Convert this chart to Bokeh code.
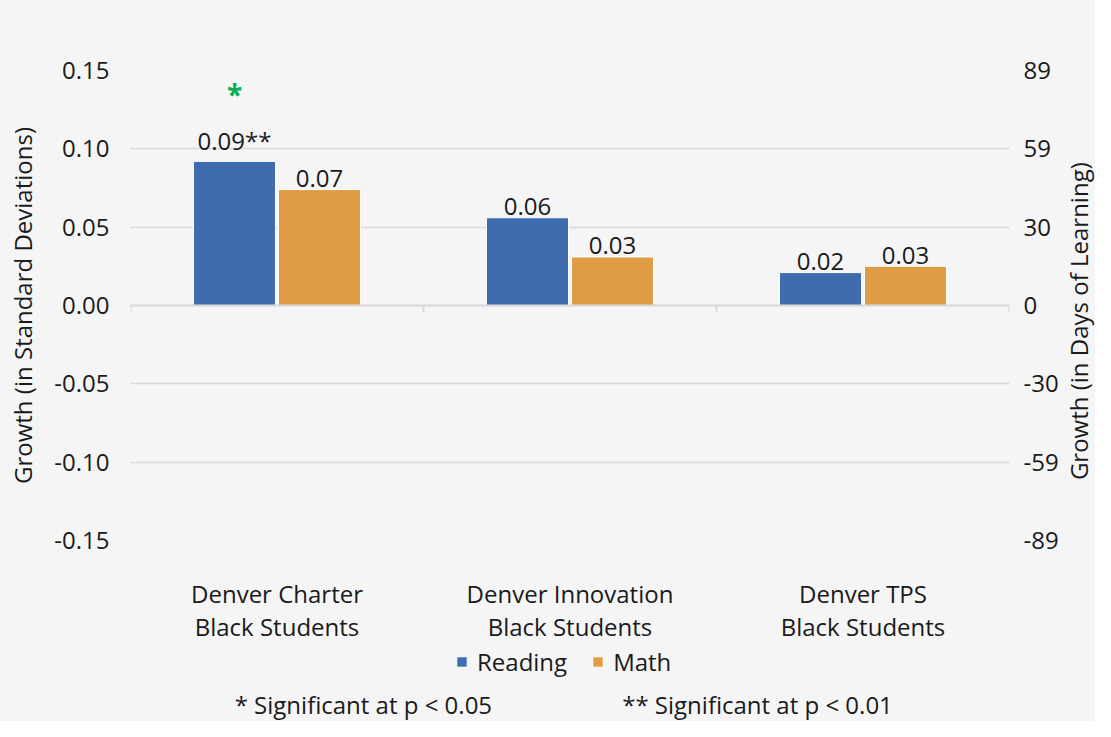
import math as _m
from bokeh.plotting import figure
from bokeh.layouts import column, row
from bokeh.models import (ColumnDataSource, FactorRange, LinearAxis, FixedTicker,
                          CustomJSTickFormatter, Legend, LegendItem, Label, Range1d)
from bokeh.transform import dodge
from bokeh.core.properties import value
from bokeh.embed import file_html
from bokeh.resources import INLINE

categories = ["Denver Charter\nBlack Students", "Denver Innovation\nBlack Students", "Denver TPS\nBlack Students"]
reading = [0.092, 0.056, 0.021]
math = [0.074, 0.031, 0.025]
reading_labels = ["0.09**", "0.06", "0.02"]
math_labels = ["0.07", "0.03", "0.03"]
sig_marks = ["*", "", ""]
series = ["Reading", "Math"]
y_ticks = [-0.15, -0.10, -0.05, 0.0, 0.05, 0.10, 0.15]
days_per_sd = 593.33
footnotes = ["* Significant  at p < 0.05", "** Significant at p < 0.01"]
left_title = "Growth (in Standard Deviations)"
right_title = "Growth (in Days of Learning)"

# ---- styles ----
FONT = "Open Sans"
FS = "24px"
BG = "#f5f5f5"
BLUE = "#3e6cae"
ORANGE = "#e09c44"
GRID = "#d9d9d9"
TXT = "#1a1a1a"
W = 1095
W_RT = 34          # strip holding the right-hand axis title
H_MAIN = 645
H_FOOT = 76
FRAME_L, FRAME_R = 130, 1009
reading_label_offsets = [-21, -11, -11]
math_label_offsets = [-11, -11, -11]

src = ColumnDataSource(dict(cat=categories, reading=reading, math=math,
                            rl=reading_labels, ml=math_labels, sig=sig_marks,
                            roff=reading_label_offsets, moff=math_label_offsets))

PW = W - W_RT
p = figure(x_range=FactorRange(*categories), y_range=Range1d(-0.15, 0.15),
           width=PW, height=H_MAIN, output_backend="svg", toolbar_location=None,
           min_border_left=FRAME_L, min_border_right=PW - FRAME_R, min_border_top=70, min_border_bottom=91)
p.background_fill_color = BG
p.border_fill_color = BG
p.outline_line_color = None

p.vbar(x=dodge("cat", -0.145, range=p.x_range), top="reading", width=0.28, source=src,
       fill_color=BLUE, line_color="white", line_width=1)
p.vbar(x=dodge("cat", 0.145, range=p.x_range), top="math", width=0.28, source=src,
       fill_color=ORANGE, line_color="white", line_width=1)

p.text(x=dodge("cat", -0.145, range=p.x_range), y="reading", text="rl", source=src,
       text_align="center", text_baseline="alphabetic", y_offset="roff",
       text_font=value(FONT), text_font_size=FS, text_color=TXT)
p.text(x=dodge("cat", 0.145, range=p.x_range), y="math", text="ml", source=src,
       text_align="center", text_baseline="alphabetic", y_offset="moff",
       text_font=value(FONT), text_font_size=FS, text_color=TXT)
p.text(x=dodge("cat", -0.145, range=p.x_range), y="reading", text="sig", source=src,
       text_align="center", text_baseline="middle", y_offset=-67,
       text_font=value(FONT), text_font_size="28px", text_font_style="bold", text_color="#00b050")

# zero line with boundary ticks
bx = [(c, -0.5) for c in categories] + [(categories[-1], 0.5)]
p.segment(x0=[bx[0]], y0=[0], x1=[bx[-1]], y1=[0], line_color=GRID, line_width=2)
p.segment(x0=bx, y0=[0] * len(bx), x1=bx, y1=[-0.0045] * len(bx), line_color=GRID, line_width=2)

p.xgrid.grid_line_color = None
p.ygrid.grid_line_color = GRID
p.ygrid.grid_line_width = 1.5
p.ygrid.ticker = FixedTicker(ticks=y_ticks)

# left axis
la = p.yaxis[0]
la.ticker = FixedTicker(ticks=y_ticks)
la.formatter = CustomJSTickFormatter(code="return tick.toFixed(2);")
la.axis_line_color = None
la.major_tick_line_color = None
la.minor_tick_line_color = None
la.major_label_standoff = 15
la.major_label_text_font = FONT
la.major_label_text_font_size = FS
la.major_label_text_color = TXT
la.axis_label = left_title
la.axis_label_text_font = FONT
la.axis_label_text_font_size = FS
la.axis_label_text_font_style = "normal"
la.axis_label_text_color = TXT
la.axis_label_standoff = 12

# right axis (days of learning)
ra = LinearAxis(ticker=FixedTicker(ticks=y_ticks),
                formatter=CustomJSTickFormatter(args=dict(k=days_per_sd),
                                                code="return String(Math.round(tick*k) + 0);"))
ra.axis_line_color = None
ra.major_tick_line_color = None
ra.minor_tick_line_color = None
ra.major_label_standoff = 8
ra.major_label_text_font = FONT
ra.major_label_text_font_size = FS
ra.major_label_text_color = TXT
p.add_layout(ra, "right")

# x axis
xa = p.xaxis[0]
xa.axis_line_color = None
xa.major_tick_line_color = None
xa.minor_tick_line_color = None
xa.major_label_standoff = 30
xa.major_label_text_font = FONT
xa.major_label_text_font_size = FS
xa.major_label_text_color = TXT
xa.major_label_text_line_height = 1.0

# ---- right-hand axis title strip ----
r = figure(x_range=Range1d(0, 1), y_range=Range1d(-0.15, 0.15), width=W_RT, height=H_MAIN,
           output_backend="svg", toolbar_location=None, min_border=0)
r.background_fill_color = BG
r.border_fill_color = BG
r.outline_line_color = None
r.axis.visible = False
r.grid.grid_line_color = None
r.add_layout(Label(x=0.5, y=-0.01, angle=_m.pi / 2, text=right_title,
                   text_align="center", text_baseline="middle",
                   text_font=FONT, text_font_size=FS, text_color=TXT))

# ---- legend + footnotes strip ----
q = figure(x_range=Range1d(FRAME_L, FRAME_R), y_range=Range1d(0, H_FOOT), width=W, height=H_FOOT,
           output_backend="svg", toolbar_location=None, min_border=0,
           min_border_left=FRAME_L, min_border_right=W - FRAME_R)
q.background_fill_color = BG
q.border_fill_color = BG
q.outline_line_color = None
q.axis.visible = False
q.grid.grid_line_color = None
nan = float("nan")
lr1 = q.vbar(x=[nan], top=[nan], width=1, fill_color=BLUE, line_color="white", line_width=1)
lr2 = q.vbar(x=[nan], top=[nan], width=1, fill_color=ORANGE, line_color="white", line_width=1)
legend = Legend(items=[LegendItem(label=series[0], renderers=[lr1]),
                       LegendItem(label=series[1], renderers=[lr2])],
                orientation="horizontal", location=(455 - FRAME_L, 43),
                background_fill_alpha=0, border_line_color=None,
                glyph_width=13, glyph_height=13, label_standoff=9, spacing=24,
                padding=0, margin=0, label_height=24,
                label_text_font=FONT, label_text_font_size=FS, label_text_color=TXT)
q.add_layout(legend, "center")
for txt, xpos in zip(footnotes, [366, 757]):
    q.add_layout(Label(x=xpos, y=17, text=txt, text_align="center", text_baseline="middle",
                       text_font=FONT, text_font_size=FS, text_color=TXT))

layout = column(row(p, r, spacing=0), q, spacing=0, styles={"background-color": BG})
open("out.html", "w").write(file_html(layout, INLINE))
